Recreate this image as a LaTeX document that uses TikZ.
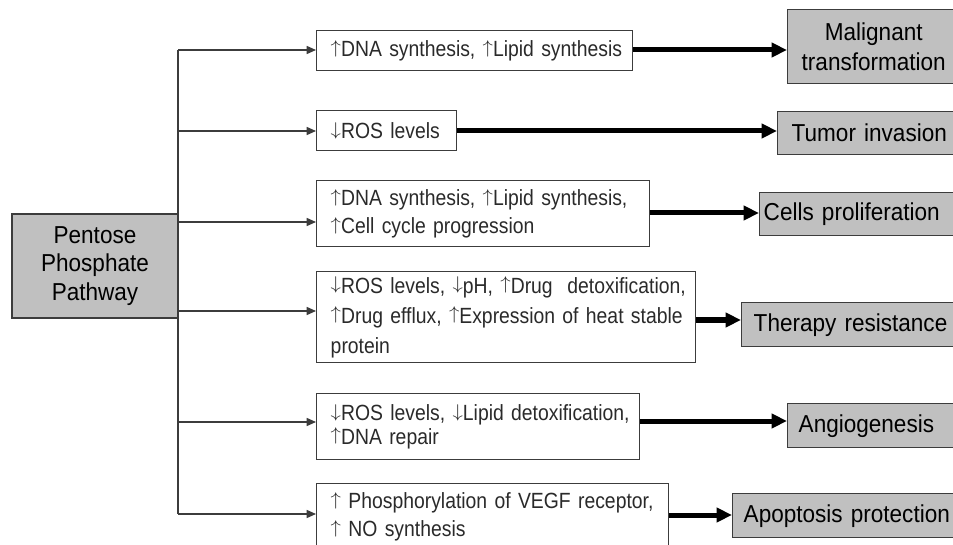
\documentclass[tikz,border=0pt]{standalone}
\usepackage{graphicx}
\usepackage{fontspec}
\setmainfont{Liberation Sans}
\newfontfamily\midf{Liberation Sans}[FakeStretch=0.88]
\newfontfamily\resf{Liberation Sans}[FakeStretch=0.92]
\usetikzlibrary{arrows.meta}
\newdimen\upx \upx=0.75pt
\newcommand\uar{\raisebox{0.16em}{\scalebox{0.9}[0.8]{$\uparrow$}}}
\newcommand\dar{\raisebox{0.16em}{\scalebox{0.9}[0.8]{$\downarrow$}}}
\definecolor{lc}{HTML}{3C3C3C}
\definecolor{gf}{HTML}{C0C0C0}
\definecolor{tc}{HTML}{2A2A2A}
\begin{document}
\begin{tikzpicture}[x=0.75pt,y=-0.75pt,
  midbox/.style={draw=lc, line width=1.1pt, fill=white, anchor=north west,
    inner xsep=14\upx, inner ysep=0pt, align=left, text=tc,
    font=\midf\fontsize{16.5pt}{#1}\selectfont},
  resbox/.style={draw=lc, line width=1.1pt, fill=gf, anchor=north west,
    inner ysep=0pt, align=left, text=black, text width=250\upx,
    font=\resf\fontsize{18.375pt}{22.5pt}\selectfont},
  thinarr/.style={draw=lc, line width=1.1pt, -{Triangle[length=7pt,width=6pt]}},
  bigarr/.style={draw=black, line width=3.75pt, -{Triangle[length=11.5pt,width=10.5pt]}}]
\useasboundingbox (0,0) rectangle (953,545);
\clip (0,0) rectangle (953,545);
\fill[white] (0,0) rectangle (953,545);

% source
\node[draw=lc, fill=gf, line width=1.1pt, minimum width=166\upx, minimum height=104\upx,
  inner sep=0pt, align=center, font=\resf\fontsize{18.375pt}{21.4pt}\selectfont] (ppp) at (95,266)
  {Pentose\\Phosphate\\Pathway};

% middle boxes
\node[midbox=23pt, minimum width=316\upx, minimum height=40\upx, text width=288\upx] (m1) at (316,30)
  {\mbox{\uar DNA synthesis, \uar Lipid synthesis}};
\node[midbox=23pt, minimum width=140\upx, minimum height=40\upx, text width=112\upx] (m2) at (316,110)
  {\mbox{\dar ROS levels}};
\node[midbox=21pt, minimum width=333\upx, minimum height=66\upx, text width=305\upx] (m3) at (316,180)
  {\mbox{\uar DNA synthesis, \uar Lipid synthesis,}\\\mbox{\uar Cell cycle progression}};
\node[midbox=22.5pt, minimum width=379\upx, minimum height=91\upx, text width=351\upx] (m4) at (316,271)
  {\mbox{\dar ROS levels, \dar pH, \uar Drug~ detoxification,}\\\mbox{\uar Drug efflux, \uar Expression of heat stable}\\\mbox{protein}};
\node[midbox=17.5pt, minimum width=323\upx, minimum height=66\upx, text width=295\upx] (m5) at (316,393)
  {\mbox{\dar ROS levels, \dar Lipid detoxification,}\\\mbox{\uar DNA repair}};
\node[midbox=21pt, minimum width=352\upx, minimum height=66\upx, text width=324\upx] (m6) at (316,483)
  {\mbox{\uar\ Phosphorylation of VEGF receptor,}\\\mbox{\uar\ NO synthesis}};

% result boxes
\node[resbox, align=center, text width=150\upx, inner xsep=11\upx, minimum height=74\upx] (r1) at (787,9)
  {Malignant\\transformation};
\node[resbox, inner xsep=14\upx, minimum height=43\upx] (r2) at (777,111) {Tumor invasion};
\node[resbox, inner xsep=4\upx, minimum height=43\upx] (r3) at (759,192) {Cells proliferation};
\node[resbox, inner xsep=12\upx, minimum height=44\upx] (r4) at (741,302) {Therapy resistance};
\node[resbox, inner xsep=11\upx, minimum height=44\upx] (r5) at (787,403) {Angiogenesis};
\node[resbox, inner xsep=11\upx, minimum height=44\upx] (r6) at (732,493) {Apoptosis protection};

% trunk coordinates
\coordinate (b1) at (178,50);
\coordinate (b2) at (178,131);
\coordinate (b3) at (178,222);
\coordinate (b4) at (178,311);
\coordinate (b5) at (178,422);
\coordinate (b6) at (178,514);
% thick arrow levels
\coordinate (k1) at (0,50);
\coordinate (k2) at (0,131);
\coordinate (k3) at (0,213);
\coordinate (k4) at (0,320);
\coordinate (k5) at (0,421);
\coordinate (k6) at (0,515);

\draw[draw=lc, line width=1.1pt] (b1) -- (b6);
\foreach \i in {1,...,6} {
  \draw[thinarr] (b\i) -- (b\i -| m\i.west);
  \draw[bigarr] (m\i.east |- k\i) -- (r\i.west |- k\i);
}
\end{tikzpicture}
\end{document}
